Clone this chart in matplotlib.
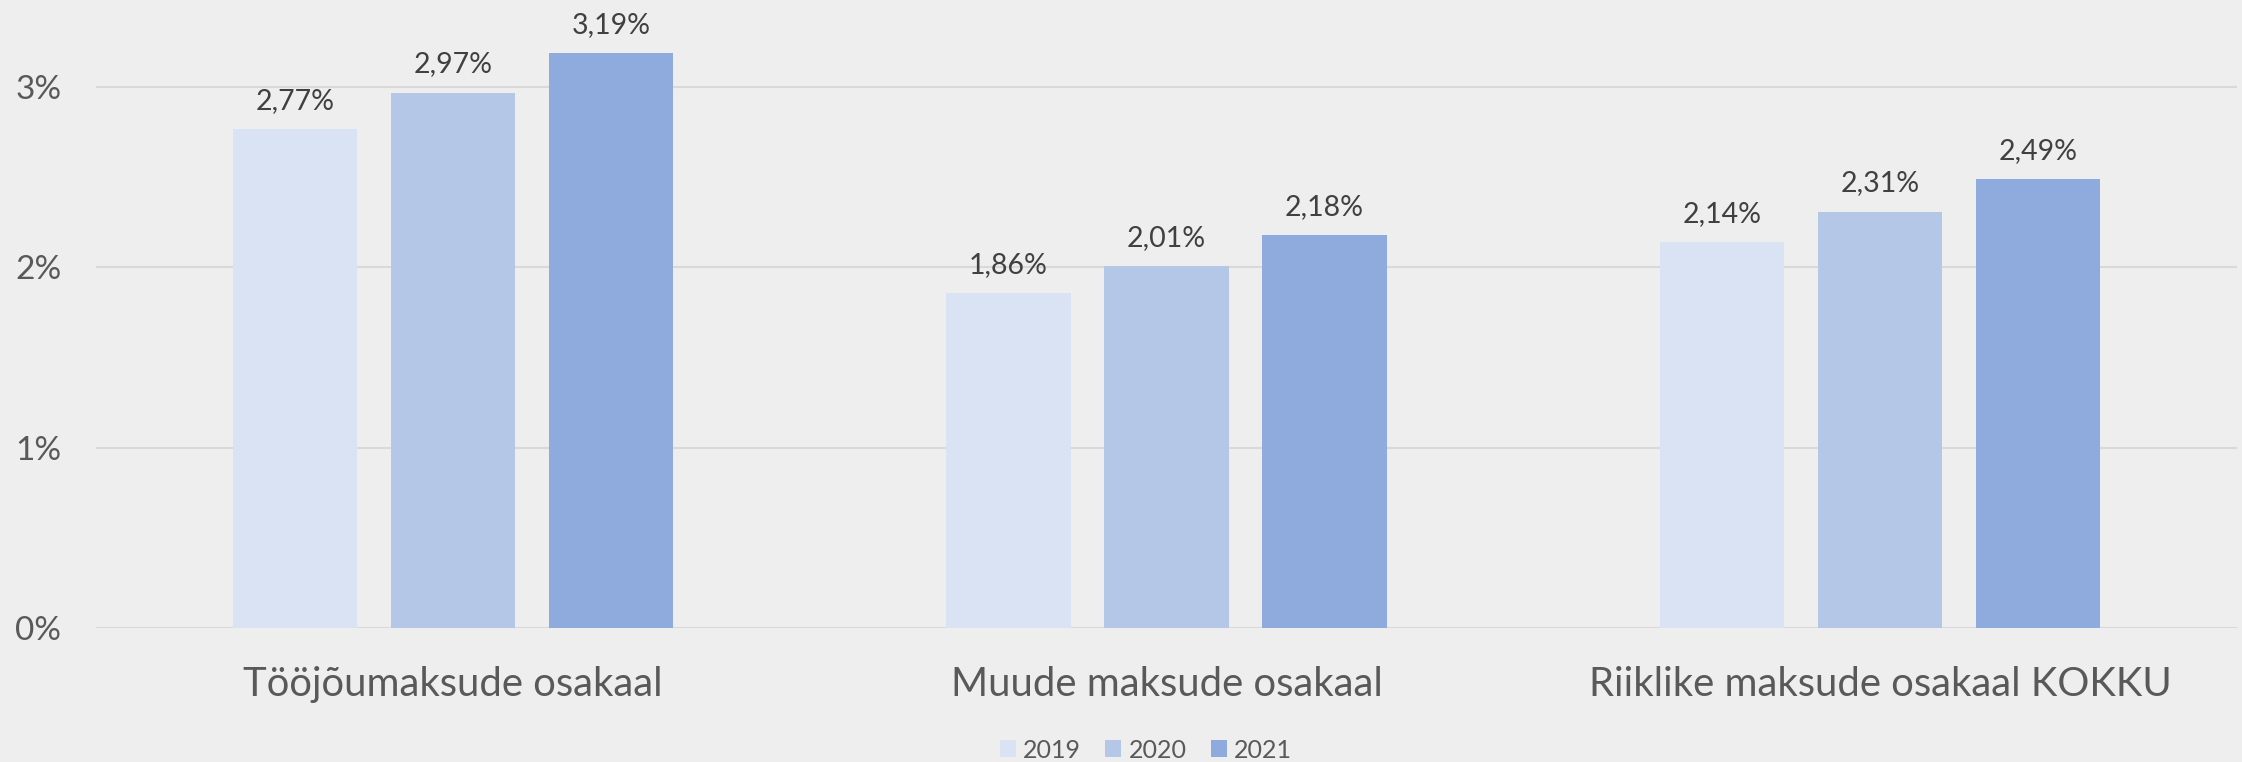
import matplotlib
matplotlib.use("Agg")
import matplotlib.pyplot as plt
from matplotlib.patches import Patch
from matplotlib.ticker import FuncFormatter
import numpy as np

categories = ["Tööjõumaksude osakaal", "Muude maksude osakaal", "Riiklike maksude osakaal KOKKU"]
years = ["2019", "2020", "2021"]
values_2019 = [2.77, 1.86, 2.14]
values_2020 = [2.97, 2.01, 2.31]
values_2021 = [3.19, 2.18, 2.49]
yticks = [0, 1, 2, 3]

series = [values_2019, values_2020, values_2021]
colors = ["#DAE3F3", "#B4C7E7", "#8FAADC"]
bg = "#EEEEEE"

plt.rcParams['font.family'] = ['Lato', 'DejaVu Sans']

W, H = 2242, 762
fig = plt.figure(figsize=(W / 100, H / 100), dpi=100, facecolor=bg)
left_px, right_px = 96, 2237
zero_px, px_per_unit = 628, 180.3
ytop = 3.4
ax = fig.add_axes([left_px / W, (H - zero_px) / H, (right_px - left_px) / W,
                   ytop * px_per_unit / H])
ax.set_facecolor(bg)

x = np.arange(len(categories))
bw = 0.1743
pitch = 0.2214
for i, (vals, c) in enumerate(zip(series, colors)):
    pos = x + (i - 1) * pitch
    ax.bar(pos, vals, width=bw, color=c, zorder=2)
    for px_, v in zip(pos, vals):
        ax.annotate(f"{v:.2f}%".replace(".", ","), xy=(px_, v), xytext=(0, 14.4),
                    textcoords="offset points", ha="center", va="baseline",
                    fontsize=20.5, color="#404040")

ax.set_xlim(-0.5, 2.5)
ax.set_ylim(0, ytop)
ax.set_yticks(yticks)
ax.yaxis.set_major_formatter(FuncFormatter(lambda v, p: f"{v:.0f}%"))
ax.tick_params(axis="y", length=0, pad=25, labelsize=24, labelcolor="#595959")
ax.set_xticks([])
ax.grid(axis="y", color="#D9D9D9", linewidth=1.5, zorder=0)
ax.set_axisbelow(True)
for s in ax.spines.values():
    s.set_visible(False)

for xi, cat in zip(x, categories):
    ax.annotate(cat, xy=(xi, 0), xycoords=("data", "axes fraction"),
                xytext=(0, -49), textcoords="offset points", ha="center",
                va="baseline", fontsize=28.8, color="#595959")

handles = [Patch(facecolor=c, edgecolor="none") for c in colors]
fig.legend(handles, years, loc="center", bbox_to_anchor=(1146 / W, 12 / H),
           ncol=3, frameon=False, fontsize=18, labelcolor="#595959",
           handlelength=0.64, handleheight=0.64, handletextpad=0.3,
           columnspacing=0.96, borderpad=0, borderaxespad=0)

fig.savefig("out.png", dpi=100, facecolor=bg)
